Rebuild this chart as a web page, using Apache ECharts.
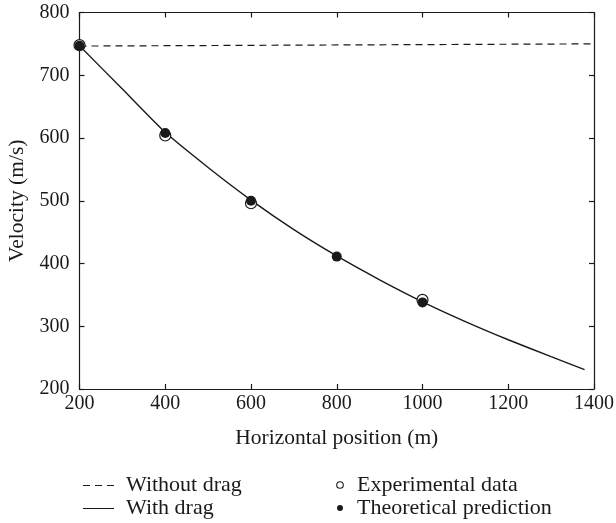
<!DOCTYPE html>
<html>
<head>
<meta charset="utf-8">
<script src="https://cdn.jsdelivr.net/npm/echarts@6/dist/echarts.min.js"></script>
<style>
  html, body { margin: 0; padding: 0; background: #fff; }
  #chart { width: 616px; height: 523px; }
</style>
</head>
<body>
<div id="chart"></div>
<script>
// Horizontal positions (m) where measurements/predictions were taken
const positions = [200, 400, 600, 800, 1000];
// Measured velocities (m/s); no separate measurement visible at 800 m
const experimental = [748, 604, 496, null, 342];
// Predicted velocities (m/s) from the drag model
const theoretical = [747, 608, 500, 411, 338];

// Velocity trace with drag
const dragX = [200, 300, 400, 500, 600, 700, 800, 900, 1000, 1100, 1200, 1300, 1378];
const dragY = [747, 678, 609, 553, 501, 454, 412, 374, 339, 307.5, 278.5, 251.5, 231];

// Velocity trace without drag
const noDragX = [200, 1397];
const noDragY = [746.5, 750];

const xTicks = [200, 400, 600, 800, 1000, 1200, 1400];
const yTicks = [200, 300, 400, 500, 600, 700, 800];

// Legend entries: [label, kind]
const legendLeft = [['Without drag', 'dash'], ['With drag', 'solid']];
const legendRight = [['Experimental data', 'open'], ['Theoretical prediction', 'filled']];

const FONT = 'Liberation Serif';
const INK = '#1a1a1a';

const zip = (a, b) => a.map((v, i) => [v, b[i]]);

const chart = echarts.init(document.getElementById('chart'), null, { renderer: 'canvas' });

const axisBase = {
  type: 'value',
  axisLine: { show: true, onZero: false, lineStyle: { color: INK, width: 1.2 } },
  axisTick: { show: true, inside: true, length: 5, lineStyle: { color: INK, width: 1.2 } },
  splitLine: { show: false }
};

// Legend drawn as small graphic groups below the plot
function legendKey(kind, x, y) {
  if (kind === 'dash' || kind === 'solid') {
    return {
      type: 'line',
      shape: { x1: x, y1: y + 0.5, x2: x + 31, y2: y + 0.5 },
      style: { stroke: INK, lineWidth: 1, lineDash: kind === 'dash' ? [7, 5] : null }
    };
  }
  return {
    type: 'circle',
    shape: { cx: x + 5, cy: y, r: kind === 'open' ? 3.3 : 3 },
    style: kind === 'open'
      ? { fill: '#fff', stroke: INK, lineWidth: 1.1 }
      : { fill: INK }
  };
}
function legendText(label, x, y) {
  return {
    type: 'text',
    x: x, y: y,
    style: { text: label, fill: INK, font: '22px "' + FONT + '"', verticalAlign: 'middle' }
  };
}
const rowY = [485, 508];
const legendGraphics = [];
legendLeft.forEach((e, i) => {
  legendGraphics.push(legendKey(e[1], 83, rowY[i]));
  legendGraphics.push(legendText(e[0], 126, rowY[i]));
});
legendRight.forEach((e, i) => {
  legendGraphics.push(legendKey(e[1], 335, rowY[i]));
  legendGraphics.push(legendText(e[0], 357, rowY[i]));
});

chart.setOption({
  backgroundColor: '#ffffff',
  animation: false,
  textStyle: { fontFamily: FONT },
  grid: { left: 79.5, right: 22, top: 12.5, bottom: 134, containLabel: false, outerBoundsMode: 'none' },
  xAxis: [
    Object.assign({}, axisBase, {
      position: 'bottom',
      min: xTicks[0], max: xTicks[xTicks.length - 1], interval: 200,
      name: 'Horizontal position (m)',
      nameLocation: 'middle', nameGap: 38,
      nameTextStyle: { fontFamily: FONT, fontSize: 21.5, color: INK },
      axisLabel: { fontFamily: FONT, fontSize: 20, color: INK, margin: 5, formatter: v => String(v) }
    }),
    Object.assign({}, axisBase, {
      position: 'top',
      min: xTicks[0], max: xTicks[xTicks.length - 1], interval: 200,
      axisLabel: { show: false }
    })
  ],
  yAxis: [
    Object.assign({}, axisBase, {
      position: 'left',
      min: yTicks[0], max: yTicks[yTicks.length - 1], interval: 100,
      name: 'Velocity (m/s)',
      nameLocation: 'middle', nameGap: 51, nameRotate: 90,
      nameTextStyle: { fontFamily: FONT, fontSize: 21.5, color: INK },
      axisLabel: { fontFamily: FONT, fontSize: 20, color: INK, margin: 10, formatter: v => String(v) }
    }),
    Object.assign({}, axisBase, {
      position: 'right',
      min: yTicks[0], max: yTicks[yTicks.length - 1], interval: 100,
      axisLabel: { show: false }
    })
  ],
  graphic: legendGraphics,
  series: [
    {
      name: 'Without drag',
      type: 'line',
      data: zip(noDragX, noDragY),
      showSymbol: false, symbol: 'none',
      lineStyle: { color: INK, width: 1.2, type: [7, 5] },
      z: 2
    },
    {
      name: 'With drag',
      type: 'line',
      data: zip(dragX, dragY),
      smooth: 0.2,
      showSymbol: false, symbol: 'none',
      lineStyle: { color: INK, width: 1.4 },
      z: 2
    },
    {
      name: 'Experimental data',
      type: 'scatter',
      data: zip(positions, experimental).filter(p => p[1] !== null),
      symbol: 'circle', symbolSize: 11,
      itemStyle: { color: '#ffffff', borderColor: INK, borderWidth: 1.2, opacity: 1 },
      z: 3
    },
    {
      name: 'Theoretical prediction',
      type: 'scatter',
      data: zip(positions, theoretical),
      symbol: 'circle', symbolSize: 10,
      itemStyle: { color: INK, opacity: 1 },
      z: 4
    }
  ]
});
</script>
</body>
</html>
